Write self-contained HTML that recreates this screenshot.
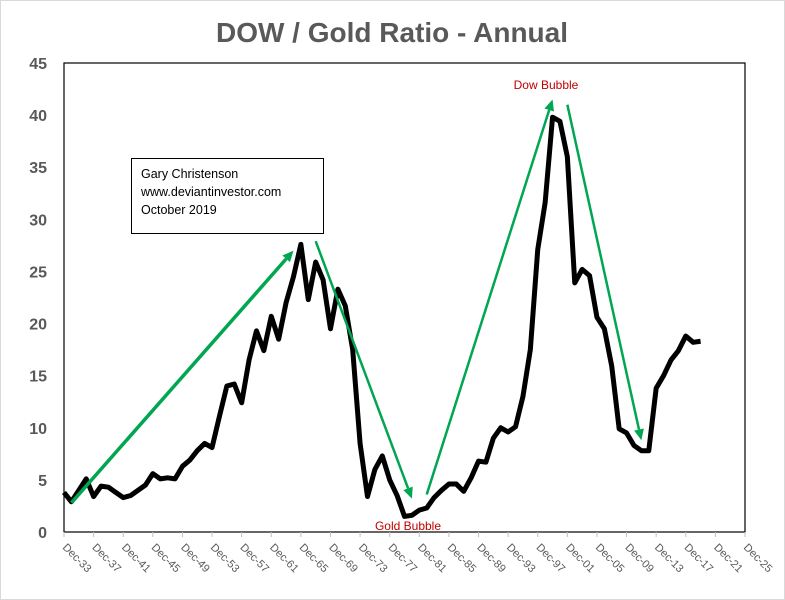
<!DOCTYPE html>
<html><head><meta charset="utf-8"><style>
body{margin:0;background:#fff}
svg{display:block;font-family:"Liberation Sans",sans-serif}
</style></head><body>
<svg width="785" height="600" id="chart">
<rect x="0.5" y="0.5" width="784" height="599" fill="#fff" stroke="#d9d9d9"/>
<text x="392" y="42" text-anchor="middle" font-size="28" font-weight="bold" fill="#595959">DOW / Gold Ratio - Annual</text>
<rect x="64" y="63" width="681" height="469" fill="none" stroke="#000" stroke-width="1.2"/>
<g id="yaxis"></g><g id="xaxis"></g>
<g id="series"></g>
<g id="arrows"></g>
<rect x="131.5" y="158.5" width="192" height="75" fill="#fff" stroke="#000"/>
<text x="141" y="178" font-size="12.5" fill="#000">Gary Christenson</text>
<text x="141" y="196" font-size="12.5" fill="#000">www.deviantinvestor.com</text>
<text x="141" y="214" font-size="12.5" fill="#000">October 2019</text>
<text x="546" y="89" text-anchor="middle" font-size="12" fill="#c00000">Dow Bubble</text>
<text x="408" y="530" text-anchor="middle" font-size="12" fill="#c00000">Gold Bubble</text>
</svg>
<script>
const years=[1933,1934,1935,1936,1937,1938,1939,1940,1941,1942,1943,1944,1945,1946,1947,1948,1949,1950,1951,1952,1953,1954,1955,1956,1957,1958,1959,1960,1961,1962,1963,1964,1965,1966,1967,1968,1969,1970,1971,1972,1973,1974,1975,1976,1977,1978,1979,1980,1981,1982,1983,1984,1985,1986,1987,1988,1989,1990,1991,1992,1993,1994,1995,1996,1997,1998,1999,2000,2001,2002,2003,2004,2005,2006,2007,2008,2009,2010,2011,2012,2013,2014,2015,2016,2017,2018,2019];
const ratio=[3.8,2.9,4.0,5.1,3.4,4.4,4.3,3.8,3.3,3.5,4.0,4.5,5.6,5.1,5.2,5.1,6.3,6.9,7.8,8.5,8.1,11.1,14.0,14.2,12.4,16.5,19.3,17.4,20.7,18.5,22.0,24.5,27.6,22.3,25.9,24.2,19.5,23.3,21.7,17.5,8.5,3.4,6.0,7.3,5.0,3.5,1.5,1.6,2.1,2.3,3.3,4.0,4.6,4.6,3.9,5.2,6.8,6.7,9.0,10.0,9.6,10.1,13.0,17.5,27.1,31.6,39.8,39.4,36.0,23.9,25.2,24.6,20.6,19.5,15.9,9.9,9.5,8.3,7.8,7.8,13.8,15.0,16.5,17.4,18.8,18.2,18.3];
const yTicks=[0,5,10,15,20,25,30,35,40,45];
const xTickYears=[1933,1937,1941,1945,1949,1953,1957,1961,1965,1969,1973,1977,1981,1985,1989,1993,1997,2001,2005,2009,2013,2017,2021,2025];
const arrowsFrom=[[1934,2.8],[1967,27.9],[1982,3.6],[2001,41.0]];
const arrowsTo=[[1964,27.0],[1980,3.2],[1999,41.5],[2011,8.8]];
const NS="http://www.w3.org/2000/svg";
const X=y=>64+(y-1933)*681/92;
const Y=v=>532-v*469/45;
function mk(t,a,p){const e=document.createElementNS(NS,t);for(const k in a)e.setAttribute(k,a[k]);p.appendChild(e);return e;}
const ya=document.getElementById('yaxis');
yTicks.forEach(v=>{const t=mk('text',{x:47,y:Y(v)+6,'text-anchor':'end','font-size':16,'font-weight':'bold',fill:'#595959'},ya);


t.textContent=v;});
const xa=document.getElementById('xaxis');
xTickYears.forEach(y=>{const x=X(y);
const l=mk('line',{x1:x,y1:532,x2:x,y2:537,stroke:'#bfbfbf'},xa);


const t=mk('text',{x:x-2,y:548,'font-size':11,fill:'#595959',transform:`rotate(45 ${x-2} 548)`},xa);


t.textContent='Dec-'+String(y%100).padStart(2,'0');});
const sg=document.getElementById('series');
const p=mk('polyline',{points:years.map((y,i)=>X(y)+','+Y(ratio[i])).join(' '),fill:'none',stroke:'#000','stroke-width':5,'stroke-linejoin':'round'},sg);


const ag=document.getElementById('arrows');
arrowsFrom.forEach((f,i)=>{const t=arrowsTo[i];const x1=X(f[0]),y1=Y(f[1]),x2=X(t[0]),y2=Y(t[1]);
const ang=Math.atan2(y2-y1,x2-x1),L=11,W=5;
const bx=x2-L*Math.cos(ang),by=y2-L*Math.sin(ang);
const ln=mk('line',{x1:x1,y1:y1,x2:bx,y2:by,stroke:'#00a651','stroke-width':i==0?3.5:2.5},ag);


const px=-Math.sin(ang)*W,py=Math.cos(ang)*W;
const hd=mk('polygon',{points:`${x2},${y2} ${bx+px},${by+py} ${bx-px},${by-py}`,fill:'#00a651'},ag);

});
</script>
</body></html>
